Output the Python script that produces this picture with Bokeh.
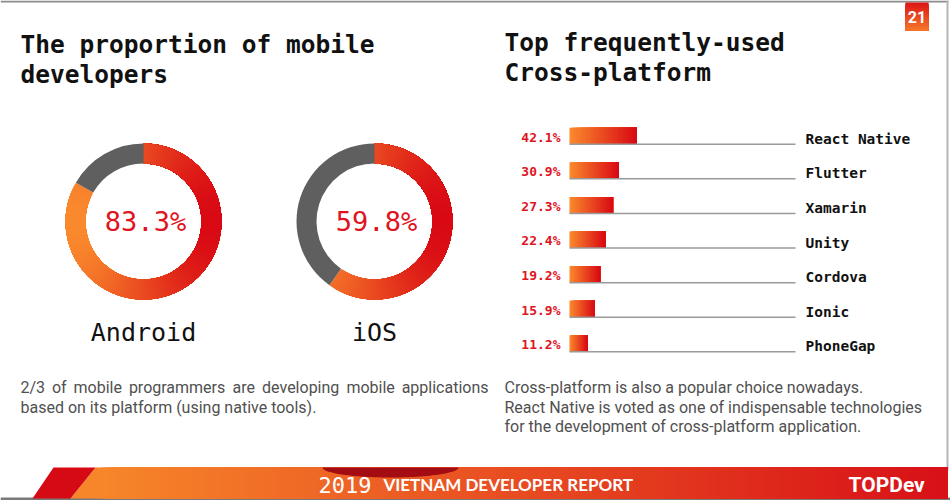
import numpy as np
from bokeh.plotting import figure
from bokeh.models import Range1d
from bokeh.embed import file_html
from bokeh.resources import INLINE
from bokeh.core.properties import value

# ---------------- data ----------------
platforms = ["Android", "iOS"]
platform_share = [83.3, 59.8]

frameworks = ["React Native", "Flutter", "Xamarin", "Unity", "Cordova", "Ionic", "PhoneGap"]
framework_share = [42.1, 30.9, 27.3, 22.4, 19.2, 15.9, 11.2]

title_left = ["The proportion of mobile", "developers"]
title_right = ["Top frequently-used", "Cross-platform"]
note_left = ["2/3 of mobile programmers are developing mobile applications",
             "based on its platform (using native tools)."]
note_right = ["Cross-platform is also a popular choice nowadays.",
              "React Native is voted as one of indispensable technologies",
              "for the development of cross-platform application."]
footer_year = "2019"
footer_title = "VIETNAM DEVELOPER REPORT"
brand = "TOPDev"
page_no = "21"

# ---------------- layout / style ----------------
W, H = 950, 500
MONO = "DejaVu Sans Mono"
SANS = "Roboto"
ORANGE = (250, 137, 45)
RED = (217, 10, 20)
GRAY_RING = "#5f5f5f"
PCT_RED = "#E0141E"

# approximate Roboto Regular advance widths (em) used to justify the first note line
ROBOTO_ADV = {"a": .544, "b": .561, "c": .523, "d": .563, "e": .529, "f": .347, "g": .561,
              "h": .551, "i": .243, "l": .243, "m": .876, "n": .552, "o": .570, "p": .561,
              "r": .338, "s": .516, "t": .327, "v": .484, "/": .412, "2": .561, "3": .561}
ROBOTO_SPACE = .248


def Y(v):
    return H - v


def mix(t, a=ORANGE, b=RED):
    t = float(min(max(t, 0.0), 1.0))
    c = [int(round(a[i] + (b[i] - a[i]) * t)) for i in range(3)]
    return "#%02x%02x%02x" % tuple(c)


p = figure(width=W, height=H, x_range=Range1d(0, W), y_range=Range1d(0, H),
           output_backend="svg", toolbar_location=None, min_border=0,
           x_axis_location=None, y_axis_location=None)
p.grid.visible = False
p.outline_line_color = None
p.background_fill_color = "white"
p.border_fill_color = "white"

# bar scale: percent -> pixels
BAR_X0 = 569
PX_PER_PCT = 1.595
p.extra_x_ranges = {"pct": Range1d(-BAR_X0 / PX_PER_PCT, (W - BAR_X0) / PX_PER_PCT)}

# ---------------- page frame ----------------
p.quad(left=0, right=948, bottom=Y(2), top=Y(0), fill_color="#8c8c8c", line_color=None)
p.quad(left=946, right=948, bottom=Y(470), top=Y(0), fill_color="#b5b5b5", line_color=None)

# page number box (gradient, red top-left -> orange bottom-right)
nb = 28
for k in range(nb):
    t = k / (nb - 1)
    p.quad(left=905, right=928, bottom=Y(30), top=Y(2 + 28 * k / nb),
           fill_color=mix(0.9 - 0.75 * t), line_color=None)
p.text(x=[916.5], y=[Y(16)], text=[page_no], text_align="center", text_baseline="middle",
       text_font=value(SANS), text_font_style="bold", text_font_size="16px", text_color="white")

# ---------------- titles ----------------
for j, line in enumerate(title_left):
    p.text(x=[20], y=[Y(43.5 + 30 * j)], text=[line], text_align="left", text_baseline="middle",
           text_font=value(MONO), text_font_style="bold", text_font_size="24.5px", text_color="#111111")
for j, line in enumerate(title_right):
    p.text(x=[504], y=[Y(41.5 + 30 * j)], text=[line], text_align="left", text_baseline="middle",
           text_font=value(MONO), text_font_style="bold", text_font_size="24.5px", text_color="#111111")

# ---------------- donuts ----------------
donut_cx = [143, 374]
DONUT_CY = 221
R_OUT, R_IN = 78, 58
for i, (name, share) in enumerate(zip(platforms, platform_share)):
    cx, cy = donut_cx[i], Y(DONUT_CY)
    span = 2 * np.pi * share / 100.0
    n = 200
    edges = np.linspace(np.pi / 2 - span, np.pi / 2, n + 1)
    mids = (edges[:-1] + edges[1:]) / 2
    cols = [mix((np.cos(m) + 1) / 2) for m in mids]
    p.annular_wedge(x=cx, y=cy, inner_radius=R_IN, outer_radius=R_OUT,
                    start_angle=edges[:-1], end_angle=np.full(n, np.pi / 2),
                    fill_color=cols, line_color=None)
    p.annular_wedge(x=cx, y=cy, inner_radius=R_IN, outer_radius=R_OUT,
                    start_angle=np.pi / 2, end_angle=np.pi / 2 + 2 * np.pi - span,
                    fill_color=GRAY_RING, line_color=None)
    p.text(x=[cx + 2], y=[cy], text=[f"{share}%"], text_align="center", text_baseline="middle",
           text_font=value(MONO), text_font_size="27px", text_color=PCT_RED)
    p.text(x=[cx], y=[Y(332)], text=[name], text_align="center", text_baseline="middle",
           text_font=value(MONO), text_font_size="25px", text_color="#111111")

# ---------------- bars ----------------
ROW0 = 135.5
ROW_STEP = 34.6
BAR_H = 16.5
n_seg = 40
ys, lefts, rights, cols = [], [], [], []
for i, v in enumerate(framework_share):
    yc = Y(ROW0 + i * ROW_STEP)
    for k in range(n_seg):
        ys.append(yc)
        lefts.append(v * k / n_seg)
        rights.append(v)
        cols.append(mix(k / (n_seg - 1)))
p.hbar(y=ys, left=lefts, right=rights, height=BAR_H, fill_color=cols, line_color=None,
       x_range_name="pct")

for i, (name, v) in enumerate(zip(frameworks, framework_share)):
    yc = ROW0 + i * ROW_STEP
    yb = yc + BAR_H / 2
    p.segment(x0=[BAR_X0], x1=[795], y0=[Y(yb)], y1=[Y(yb)], line_color="#9a9a9a", line_width=1.5)
    p.text(x=[560], y=[Y(yc + 1)], text=[f"{v}%"], text_align="right", text_baseline="middle",
           text_font=value(MONO), text_font_style="bold", text_font_size="13px", text_color=PCT_RED)
    p.text(x=[805], y=[Y(yc + 2.8)], text=[name], text_align="left", text_baseline="middle",
           text_font=value(MONO), text_font_style="bold", text_font_size="14.5px", text_color="#111111")

# ---------------- notes ----------------
NOTE_PX = 16
NOTE_STYLE = dict(text_align="left", text_baseline="middle", text_font=value(SANS),
                  text_font_size=f"{NOTE_PX}px", text_color="#505050")
# first left line is justified between x=20 and x=488
words = note_left[0].split(" ")
wlen = [sum(ROBOTO_ADV.get(ch, .55) for ch in w) * NOTE_PX for w in words]
gap = (488 - 20 - sum(wlen)) / (len(words) - 1)
wx = [20.0]
for w in wlen[:-1]:
    wx.append(wx[-1] + w + gap)
p.text(x=wx, y=[Y(387)] * len(words), text=words, **NOTE_STYLE)
p.text(x=[20], y=[Y(406.5)], text=[note_left[1]], **NOTE_STYLE)
for j, line in enumerate(note_right):
    p.text(x=[504], y=[Y(387 + 19.5 * j)], text=[line], **NOTE_STYLE)

# ---------------- footer ----------------
FT, FB = 467, 498
p.quad(left=0, right=950, bottom=Y(500), top=Y(FB - 1), fill_color="#7a7a7a", line_color=None)
xs = np.arange(96, 947, 4)
for x0 in xs:
    t = (x0 - 96) / (946 - 96)
    p.quad(left=x0, right=947, bottom=Y(FB), top=Y(FT), fill_color=mix(t, (247, 134, 42), (216, 16, 24)),
           line_color=None)
p.patch(x=[95, 97, 97, 70], y=[Y(FT), Y(FT), Y(FB), Y(FB)], fill_color="#f7862a", line_color=None)
p.patch(x=[53, 95, 70, 32], y=[Y(FT), Y(FT), Y(FB), Y(FB)], fill_color="#d60a14", line_color=None)
th = np.linspace(np.pi, 2 * np.pi, 60)
p.patch(x=390 + 68 * np.cos(th), y=Y(FT) + 10 * np.sin(th), fill_color="#a30c12", line_color=None)

p.text(x=[318], y=[Y(484)], text=[footer_year], text_align="left", text_baseline="middle",
       text_font=value(MONO), text_font_size="22px", text_color="white")
p.text(x=[383], y=[Y(484)], text=[footer_title], text_align="left", text_baseline="middle",
       text_font=value("Lato"), text_font_style="bold", text_font_size="17px", text_color="white")
p.text(x=[848], y=[Y(484)], text=[brand], text_align="left", text_baseline="middle",
       text_font=value(SANS), text_font_style="bold", text_font_size="21px", text_color="white")

open("out.html", "w").write(file_html(p, INLINE))
